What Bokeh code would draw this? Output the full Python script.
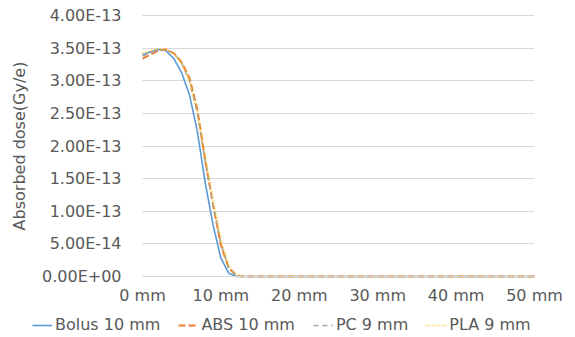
from bokeh.plotting import figure
from bokeh.models import Range1d, FixedTicker, CustomJSTickFormatter, Legend, LegendItem
from bokeh.embed import file_html
from bokeh.resources import INLINE

# Depth in mm (1 mm steps)
depth_mm = list(range(51))

# Absorbed dose (Gy/e)
bolus_10 = [3.40e-13, 3.44e-13, 3.48e-13, 3.46e-13, 3.34e-13, 3.12e-13, 2.78e-13,
            2.22e-13, 1.44e-13, 0.79e-13, 0.28e-13, 0.05e-13, 0.0] + [0.0] * 38
abs_10 = [3.34e-13, 3.40e-13, 3.46e-13, 3.48e-13, 3.42e-13, 3.28e-13, 3.04e-13,
          2.56e-13, 1.78e-13, 1.10e-13, 0.48e-13, 0.13e-13, 0.01e-13] + [0.0] * 38
pc_9 = [3.38e-13, 3.43e-13, 3.47e-13, 3.48e-13, 3.42e-13, 3.27e-13, 3.00e-13,
        2.50e-13, 1.76e-13, 1.10e-13, 0.50e-13, 0.14e-13, 0.02e-13] + [0.0] * 38
pla_9 = [3.43e-13, 3.46e-13, 3.49e-13, 3.48e-13, 3.42e-13, 3.27e-13, 2.99e-13,
         2.52e-13, 1.84e-13, 1.18e-13, 0.56e-13, 0.17e-13, 0.02e-13] + [0.0] * 38

series_names = ["Bolus 10 mm", "ABS 10 mm", "PC 9 mm", "PLA 9 mm"]
x_ticks = [0, 10, 20, 30, 40, 50]
y_ticks = [0.0, 0.5e-13, 1.0e-13, 1.5e-13, 2.0e-13, 2.5e-13, 3.0e-13, 3.5e-13, 4.0e-13]
y_label = "Absorbed dose(Gy/e)"

# ---- layout (pixels) ----
W, H = 575, 337
PLOT_L, PLOT_R, PLOT_T, PLOT_B = 142, 534, 15, 276
FONT = "DejaVu Sans"
TXT = "#595959"

x0, x1 = x_ticks[0], x_ticks[-1]
y0, y1 = y_ticks[0], y_ticks[-1]
sx = (x1 - x0) / (PLOT_R - PLOT_L)
sy = (y1 - y0) / (PLOT_B - PLOT_T)
x_range = Range1d(x0 - PLOT_L * sx, x1 + (W - PLOT_R) * sx)
y_range = Range1d(y0 - (H - PLOT_B) * sy, y1 + PLOT_T * sy)

p = figure(width=W, height=H, output_backend="svg", toolbar_location=None,
           x_range=x_range, y_range=y_range,
           min_border_left=0, min_border_right=0, min_border_top=0, min_border_bottom=0)
p.outline_line_color = None
p.background_fill_color = "white"
p.border_fill_color = "white"

styles = [
    ("#5B9BD5", "solid", 1.6),
    ("#ED7D31", "7 3", 2.0),
    ("#A5A5A5", "5 4", 1.6),
    ("#FFC000", "1 2", 1.6),
]
datasets = [bolus_10, abs_10, pc_9, pla_9]

# gridlines limited to the plot area
p.xgrid.grid_line_color = None
ygrid = p.ygrid[0]
ygrid.ticker = FixedTicker(ticks=y_ticks)
if "cross_bounds" in ygrid.properties():
    ygrid.cross_bounds = (x0, x1)
    ygrid.grid_line_color = "#D9D9D9"
    ygrid.grid_line_width = 1
else:
    ygrid.grid_line_color = None
    p.segment(x0=[x0] * len(y_ticks), x1=[x1] * len(y_ticks), y0=y_ticks, y1=y_ticks,
              line_color="#D9D9D9", line_width=1)

renderers = []
for data, (color, dash, w) in zip(datasets, styles):
    r = p.line(depth_mm, data, line_color=color, line_dash=dash, line_width=w)
    renderers.append(r)

# axes drawn at fixed data locations
xa = p.xaxis[0]
ya = p.yaxis[0]
xa.fixed_location = y0
ya.fixed_location = x0
xa.bounds = (x0, x1)
ya.bounds = (y0, y1)
xa.ticker = FixedTicker(ticks=x_ticks)
xa.formatter = CustomJSTickFormatter(code="return tick.toFixed(0) + ' mm';")
ya.ticker = FixedTicker(ticks=y_ticks)
ya.formatter = CustomJSTickFormatter(code="""
    let s = tick.toExponential(2).toUpperCase();
    return s.replace(/E([+-])(\\d)$/, function(m, sg, d) { return 'E' + sg + '0' + d; });
""")
for ax in (xa, ya):
    ax.major_tick_line_color = None
    ax.minor_tick_line_color = None
    ax.major_tick_out = 0
    ax.major_tick_in = 0
    ax.minor_tick_out = 0
    ax.minor_tick_in = 0
    ax.major_label_text_font = FONT
    ax.major_label_text_font_size = "16px"
    ax.major_label_text_color = TXT
xa.axis_line_color = "#D9D9D9"
ya.axis_line_color = None
xa.major_label_standoff = 9
ya.major_label_standoff = 21
ya.axis_label = y_label
ya.axis_label_text_font = FONT
ya.axis_label_text_font_size = "16px"
ya.axis_label_text_font_style = "normal"
ya.axis_label_text_color = TXT
ya.axis_label_standoff = 10

legend = Legend(items=[LegendItem(label=n, renderers=[r]) for n, r in zip(series_names, renderers)],
                orientation="horizontal", location=(32, 3),
                label_text_font=FONT, label_text_font_size="16px", label_text_color=TXT,
                glyph_width=20, glyph_height=16, label_standoff=3, spacing=18,
                padding=0, margin=0, border_line_color=None, background_fill_alpha=0)
p.add_layout(legend, "center")

open("out.html", "w").write(file_html(p, INLINE))
